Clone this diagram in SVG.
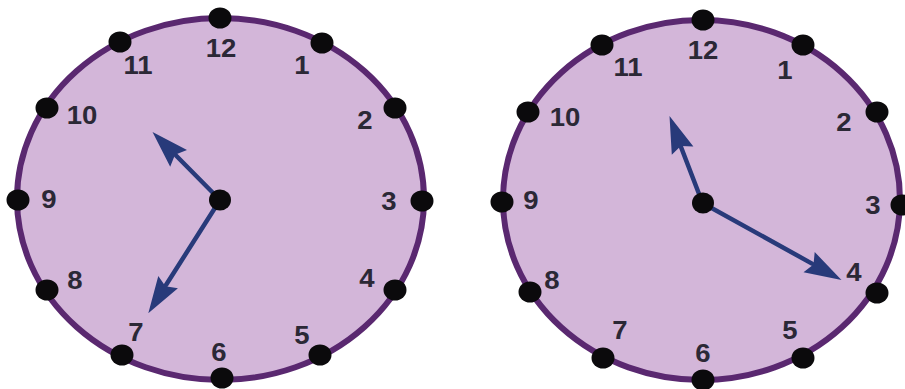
<svg xmlns="http://www.w3.org/2000/svg" width="905" height="389" viewBox="0 0 905 389">
<style>
.face{fill:#d3b6d9;stroke:#5a2870;stroke-width:6}
.dot{fill:#0b0a0c}
.n{font-family:"Liberation Sans",Arial,sans-serif;font-weight:bold;font-size:25px;fill:#2b2836;text-anchor:middle}
.shaft{stroke:#283a7a;stroke-width:4.5;stroke-linecap:round;fill:none}
.head{fill:#283a7a}
</style>
<rect width="905" height="389" fill="#ffffff"/>
<g id="clock-left">
<ellipse class="face" cx="220.5" cy="199" rx="203.5" ry="181"/>
<g id="left-dots">
<ellipse class="dot" cx="220" cy="18" rx="11.5" ry="10.5"/>
<ellipse class="dot" cx="322" cy="43" rx="11.5" ry="10.5"/>
<ellipse class="dot" cx="395" cy="108" rx="11.5" ry="10.5"/>
<ellipse class="dot" cx="422" cy="201" rx="11.5" ry="10.5"/>
<ellipse class="dot" cx="395" cy="290" rx="11.5" ry="10.5"/>
<ellipse class="dot" cx="320" cy="355" rx="11.5" ry="10.5"/>
<ellipse class="dot" cx="222" cy="378" rx="11.5" ry="10.5"/>
<ellipse class="dot" cx="122" cy="355" rx="11.5" ry="10.5"/>
<ellipse class="dot" cx="47" cy="290" rx="11.5" ry="10.5"/>
<ellipse class="dot" cx="18" cy="200" rx="11.5" ry="10.5"/>
<ellipse class="dot" cx="47" cy="108" rx="11.5" ry="10.5"/>
<ellipse class="dot" cx="120" cy="42" rx="11.5" ry="10.5"/>
</g>
<g id="left-numbers">
<text class="n" transform="translate(221 57) scale(1.1 1)">12</text>
<text class="n" transform="translate(138 74) scale(1.1 1)">11</text>
<text class="n" transform="translate(302 74) scale(1.1 1)">1</text>
<text class="n" transform="translate(82 124) scale(1.1 1)">10</text>
<text class="n" transform="translate(365 129) scale(1.1 1)">2</text>
<text class="n" transform="translate(389 210) scale(1.1 1)">3</text>
<text class="n" transform="translate(367 287) scale(1.1 1)">4</text>
<text class="n" transform="translate(302 344) scale(1.1 1)">5</text>
<text class="n" transform="translate(219 361) scale(1.1 1)">6</text>
<text class="n" transform="translate(136 341) scale(1.1 1)">7</text>
<text class="n" transform="translate(75 289) scale(1.1 1)">8</text>
<text class="n" transform="translate(49 208) scale(1.1 1)">9</text>
</g>
<g id="left-hands">
<line class="shaft" x1="220" y1="200" x2="176" y2="155.5"/>
<polygon class="head" points="152.5,132 187,150 175,154.7 170.2,166.7"/>
<line class="shaft" x1="220" y1="200" x2="166" y2="285"/>
<polygon class="head" points="148.3,313.3 158.3,275.9 165.4,286.3 177.9,288.2"/>
<ellipse class="dot" cx="220" cy="200" rx="11" ry="10.5"/>
</g>
</g>
<g id="clock-right">
<ellipse class="face" cx="701.5" cy="200" rx="198.5" ry="180"/>
<g id="right-dots">
<ellipse class="dot" cx="703" cy="20" rx="11.5" ry="10.5"/>
<ellipse class="dot" cx="803" cy="45" rx="11.5" ry="10.5"/>
<ellipse class="dot" cx="877" cy="112" rx="11.5" ry="10.5"/>
<ellipse class="dot" cx="902" cy="205" rx="11.5" ry="10.5"/>
<ellipse class="dot" cx="877" cy="293" rx="11.5" ry="10.5"/>
<ellipse class="dot" cx="803" cy="358" rx="11.5" ry="10.5"/>
<ellipse class="dot" cx="703" cy="380" rx="11.5" ry="10.5"/>
<ellipse class="dot" cx="603" cy="358" rx="11.5" ry="10.5"/>
<ellipse class="dot" cx="530" cy="292" rx="11.5" ry="10.5"/>
<ellipse class="dot" cx="502" cy="202" rx="11.5" ry="10.5"/>
<ellipse class="dot" cx="528" cy="112" rx="11.5" ry="10.5"/>
<ellipse class="dot" cx="602" cy="45" rx="11.5" ry="10.5"/>
</g>
<g id="right-numbers">
<text class="n" transform="translate(703 59) scale(1.1 1)">12</text>
<text class="n" transform="translate(628 76) scale(1.1 1)">11</text>
<text class="n" transform="translate(785 79) scale(1.1 1)">1</text>
<text class="n" transform="translate(565 126) scale(1.1 1)">10</text>
<text class="n" transform="translate(844 131) scale(1.1 1)">2</text>
<text class="n" transform="translate(873 214) scale(1.1 1)">3</text>
<text class="n" transform="translate(854 281) scale(1.1 1)">4</text>
<text class="n" transform="translate(790 339) scale(1.1 1)">5</text>
<text class="n" transform="translate(703 362) scale(1.1 1)">6</text>
<text class="n" transform="translate(620 339) scale(1.1 1)">7</text>
<text class="n" transform="translate(552 289) scale(1.1 1)">8</text>
<text class="n" transform="translate(531 209) scale(1.1 1)">9</text>
</g>
<g id="right-hands">
<line class="shaft" x1="702.5" y1="203" x2="681" y2="147"/>
<polygon class="head" points="669.5,116 693.4,146.5 680.8,145.9 671.8,154.7"/>
<line class="shaft" x1="702.5" y1="203" x2="812" y2="263.6"/>
<polygon class="head" points="841.5,280 803.5,272.2 813.5,264.5 814.7,252"/>
<ellipse class="dot" cx="703" cy="203" rx="11" ry="10.5"/>
</g>
</g>
</svg>
